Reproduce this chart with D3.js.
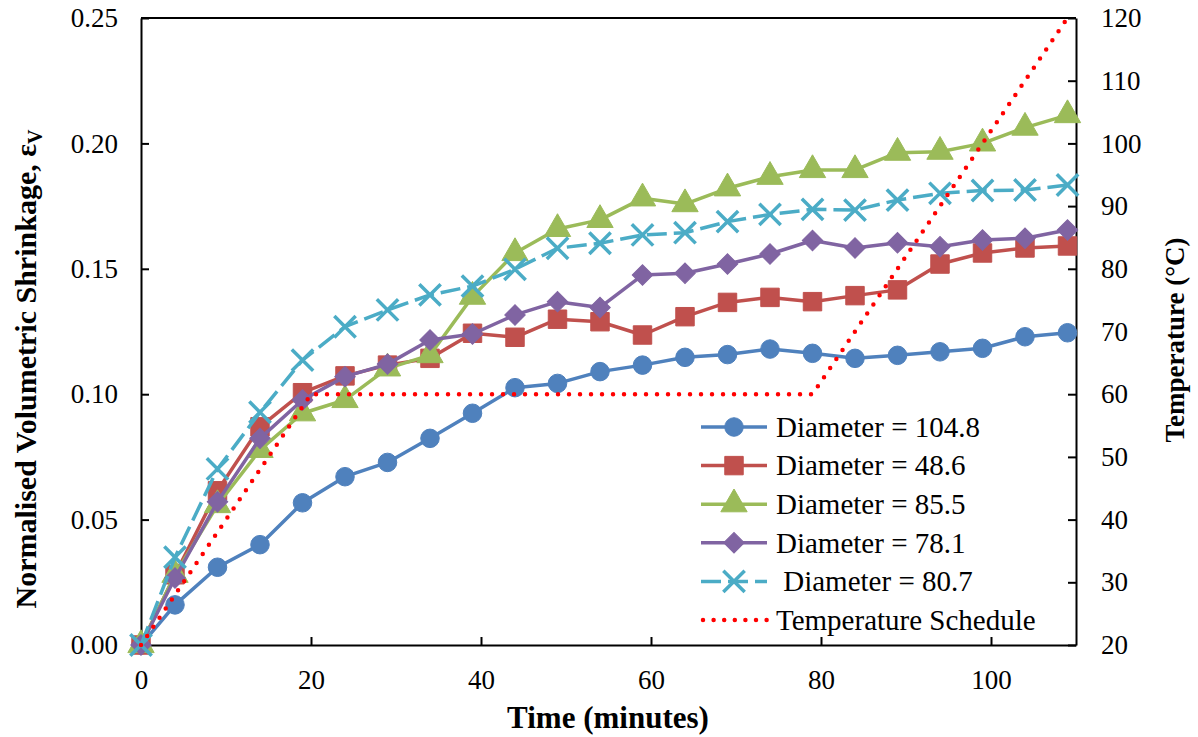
<!DOCTYPE html>
<html>
<head>
<meta charset="utf-8">
<script src="https://cdn.jsdelivr.net/npm/d3@7"></script>
<style>
  body { margin: 0; background: #fff; }
  text { font-family: "Liberation Serif", "Times New Roman", serif; }
</style>
</head>
<body>
<svg id="chart"></svg>
<script>
const width = 1198, height = 737;

// data
const times = [0, 4, 9, 14, 19, 24, 29, 34, 39, 44, 49, 54, 59, 64, 69, 74, 79, 84, 89, 94, 99, 104, 109];
const d1048 = [0, 0.016, 0.031, 0.040, 0.0567, 0.0671, 0.0728, 0.0824, 0.0924, 0.1026, 0.1043, 0.109, 0.1116, 0.1147, 0.1158, 0.118, 0.1163, 0.1143, 0.1155, 0.1169, 0.1183, 0.1229, 0.1245];
const d486 = [0, 0.028, 0.0615, 0.087, 0.1006, 0.1073, 0.1116, 0.1143, 0.1243, 0.1227, 0.1299, 0.1289, 0.1236, 0.1309, 0.1366, 0.1386, 0.1369, 0.1393, 0.1416, 0.1519, 0.1563, 0.1583, 0.1591];
const d855 = [0, 0.028, 0.0558, 0.0778, 0.0924, 0.0977, 0.1103, 0.1156, 0.1389, 0.1563, 0.1659, 0.1695, 0.1781, 0.1758, 0.1821, 0.1867, 0.1894, 0.1894, 0.1963, 0.1967, 0.2, 0.2063, 0.2113];
const d781 = [0, 0.0267, 0.0571, 0.0824, 0.0977, 0.107, 0.112, 0.1216, 0.124, 0.1316, 0.1369, 0.1346, 0.1475, 0.1482, 0.1519, 0.1559, 0.1613, 0.1583, 0.1604, 0.1588, 0.1615, 0.1622, 0.1655];
const d807 = [0, 0.035, 0.0702, 0.0928, 0.1136, 0.1269, 0.1336, 0.1396, 0.1431, 0.1498, 0.1582, 0.1602, 0.1635, 0.1644, 0.1688, 0.1717, 0.1737, 0.1734, 0.1774, 0.1801, 0.1812, 0.1814, 0.1834];
const tempTimes = [0, 20, 79, 109];
const tempValues = [20, 60, 60, 120];
const seriesNames = ["Diameter = 104.8", "Diameter = 48.6", "Diameter = 85.5", "Diameter = 78.1", " Diameter = 80.7"];
const seriesColors = ["#4F81BD", "#C0504D", "#9BBB59", "#8064A2", "#4BACC6"];
const xTicks = [0, 20, 40, 60, 80, 100];
const yTicks = [0, 0.05, 0.10, 0.15, 0.20, 0.25];
const tTicks = [20, 30, 40, 50, 60, 70, 80, 90, 100, 110, 120];

const svg = d3.select("#chart").attr("width", width).attr("height", height);

const pLeft = 141, pRight = 1076, pTop = 18, pBottom = 645;
const x = d3.scaleLinear().domain([0, 110]).range([pLeft, pRight]);
const y = d3.scaleLinear().domain([0, 0.25]).range([pBottom, pTop]);
const yT = d3.scaleLinear().domain([20, 120]).range([pBottom, pTop]);

// frame top line
svg.append("line")
  .attr("x1", pLeft).attr("x2", pRight).attr("y1", pTop).attr("y2", pTop)
  .attr("stroke", "#000").attr("stroke-width", 2);

// axes
const axisStyle = (g) => {
  g.attr("font-family", "'Liberation Serif', serif");
  g.select(".domain").attr("stroke", "#000").attr("stroke-width", 2);
  g.selectAll(".tick line").attr("stroke", "#000").attr("stroke-width", 2);
  g.selectAll(".tick text").attr("font-size", 27).attr("fill", "#000");
};

svg.append("g").attr("transform", `translate(0,${pBottom})`)
  .call(d3.axisBottom(x).tickValues(xTicks).tickSize(-8).tickSizeOuter(0).tickPadding(25).tickFormat(d3.format("d")))
  .call(axisStyle);

svg.append("g").attr("transform", `translate(${pLeft},0)`)
  .call(d3.axisLeft(y).tickValues(yTicks).tickSize(-8).tickSizeOuter(0).tickPadding(23).tickFormat(d3.format(".2f")))
  .call(axisStyle);

svg.append("g").attr("transform", `translate(${pRight},0)`)
  .call(d3.axisRight(yT).tickValues(tTicks).tickSize(-8).tickSizeOuter(0).tickPadding(25).tickFormat(d3.format("d")))
  .call(axisStyle);

// axis titles
svg.append("text")
  .attr("x", 608).attr("y", 728)
  .attr("text-anchor", "middle")
  .attr("font-size", 31).attr("font-weight", "bold")
  .text("Time (minutes)");

const yTitle = svg.append("text")
  .attr("transform", "translate(36,369) rotate(-90)")
  .attr("text-anchor", "middle")
  .attr("font-size", 30).attr("font-weight", "bold");
yTitle.append("tspan").text("Normalised Volumetric Shrinkage, ε");
yTitle.append("tspan").attr("font-size", 20).attr("dy", 6).text("V");

svg.append("text")
  .attr("transform", "translate(1184,340) rotate(-90)")
  .attr("text-anchor", "middle")
  .attr("font-size", 27).attr("font-weight", "bold")
  .text("Temperature (°C)");

// markers
const symbols = [
  d3.symbol().type(d3.symbolCircle).size(270),
  d3.symbol().type(d3.symbolSquare).size(340),
  d3.symbol().type(d3.symbolTriangle).size(300),
  d3.symbol().type(d3.symbolSquare).size(210),
  d3.symbol().type(d3.symbolX).size(300)
];
const rotations = [0, 0, 0, 45, 0];

function drawMarker(g, i, cx, cy) {
  const p = g.append("path")
    .attr("d", symbols[i]())
    .attr("transform", `translate(${cx},${cy}) rotate(${rotations[i]})`);
  if (i === 4) {
    p.attr("fill", "none").attr("stroke", seriesColors[i]).attr("stroke-width", 3.5);
  } else {
    p.attr("fill", seriesColors[i]).attr("stroke", seriesColors[i]).attr("stroke-width", 1);
  }
}

const allSeries = [d1048, d486, d855, d781, d807];
const line = d3.line().x((d) => x(d[0])).y((d) => y(d[1]));

allSeries.forEach((vals, i) => {
  const pts = times.map((t, j) => [t, vals[j]]);
  const g = svg.append("g");
  g.append("path")
    .attr("d", line(pts))
    .attr("fill", "none")
    .attr("stroke", seriesColors[i])
    .attr("stroke-width", 3.5)
    .attr("stroke-linejoin", "round")
    .attr("stroke-dasharray", i === 4 ? "20,7" : null);
  pts.forEach((p) => drawMarker(g, i, x(p[0]), y(p[1])));
});

// temperature schedule on the secondary axis
const tLine = d3.line().x((d) => x(d[0])).y((d) => yT(d[1]));
svg.append("path")
  .attr("d", tLine(tempTimes.map((t, j) => [t, tempValues[j]])))
  .attr("fill", "none")
  .attr("stroke", "#FF0000")
  .attr("stroke-width", 4.5)
  .attr("stroke-linecap", "round")
  .attr("stroke-dasharray", "0,11");

// legend
const legend = svg.append("g");
const rowY = (i) => 427 + i * 38.6;
seriesNames.forEach((name, i) => {
  const cy = rowY(i);
  legend.append("line")
    .attr("x1", 701).attr("x2", 767).attr("y1", cy).attr("y2", cy)
    .attr("stroke", seriesColors[i]).attr("stroke-width", 3.5)
    .attr("stroke-dasharray", i === 4 ? "20,7" : null);
  drawMarker(legend, i, 734, cy);
  legend.append("text")
    .attr("x", 776).attr("y", cy).attr("dy", "0.34em")
    .attr("font-size", 29)
    .style("white-space", "pre")
    .text(name);
});
const tRow = rowY(5);
legend.append("line")
  .attr("x1", 703).attr("x2", 767).attr("y1", tRow).attr("y2", tRow)
  .attr("stroke", "#FF0000").attr("stroke-width", 4.5)
  .attr("stroke-linecap", "round").attr("stroke-dasharray", "0,10.6");
legend.append("text")
  .attr("x", 776).attr("y", tRow).attr("dy", "0.34em")
  .attr("font-size", 29)
  .text("Temperature Schedule");
</script>
</body>
</html>
